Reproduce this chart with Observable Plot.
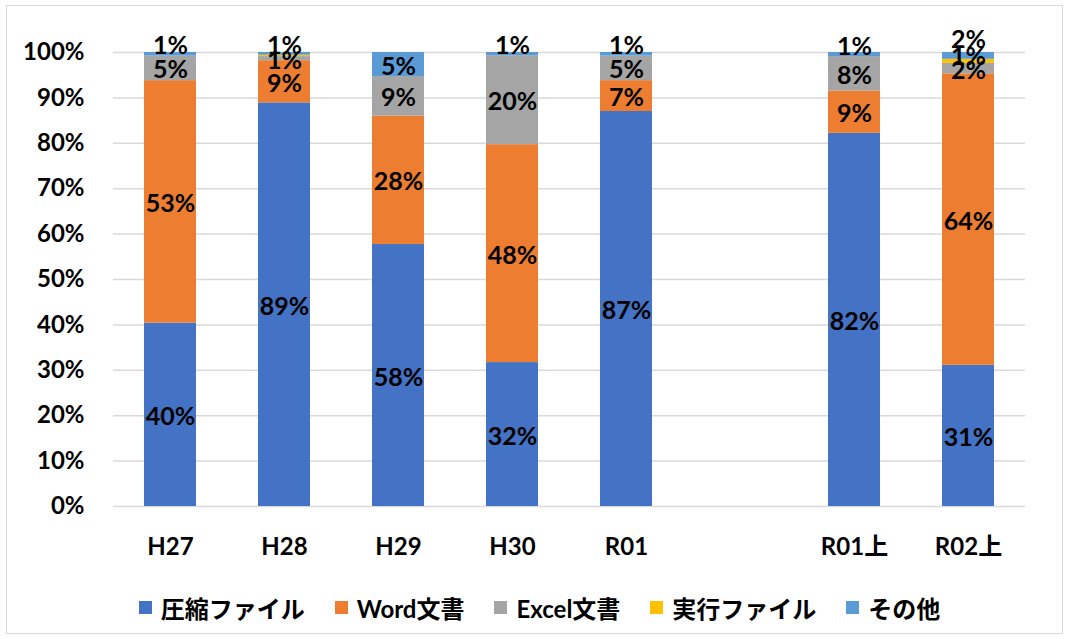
<!DOCTYPE html>
<html>
<head>
<meta charset="utf-8">
<script src="https://cdn.jsdelivr.net/npm/d3@7"></script>
<script src="https://cdn.jsdelivr.net/npm/@observablehq/plot@0.6"></script>
<style>
  html, body { margin: 0; padding: 0; background: #fff; }
  body { width: 1069px; height: 639px; position: relative; overflow: hidden;
         font-family: Lato, "Noto Sans CJK JP", sans-serif; }
  #frame { position: absolute; left: 6px; top: 5px; width: 1057px; height: 629px;
           border: 1px solid #d9d9d9; box-sizing: border-box; pointer-events: none; }
  #chart { position: absolute; left: 0; top: 0; }
  #legend { position: absolute; left: 0; top: 575px; width: 1069px; height: 64px;
            display: flex; justify-content: center; align-items: center; padding-left: 10px;
            box-sizing: border-box; }
  .item { display: flex; align-items: center; margin: 0 15px; font-weight: bold;
          font-size: 24px; font-family: Lato, "Noto Sans CJK JP", sans-serif; color: #000; }
  .sw { width: 13px; height: 13px; margin-right: 9px; }
</style>
</head>
<body>
<div id="chart"></div>
<div id="legend"></div>
<div id="frame"></div>
<script>
// ---- data ----
const categories = ["H27", "H28", "H29", "H30", "R01", "R01上", "R02上"];
const seriesNames = ["圧縮ファイル", "Word文書", "Excel文書", "実行ファイル", "その他"];
const compressed = [40.4, 88.9, 57.7, 31.7, 87.0, 82.2, 31.1];
const wordDocs   = [53.4,  9.3, 28.3, 48.0,  6.8,  9.3, 64.2];
const excelDocs  = [ 5.4,  0.9,  8.7, 19.6,  5.4,  7.6,  2.3];
const executables= [ 0.0,  0.3,  0.0,  0.0,  0.0,  0.0,  0.9];
const others     = [ 0.8,  0.6,  5.3,  0.7,  0.8,  0.9,  1.5];
const colors = ["#4472C4", "#ED7D31", "#A5A5A5", "#FFC000", "#5B9BD5"];
const yTicks = [0, 10, 20, 30, 40, 50, 60, 70, 80, 90, 100];

// ---- build table ----
const seriesValues = [compressed, wordDocs, excelDocs, executables, others];
const rows = [];
categories.forEach((cat, i) => {
  let acc = 0;
  seriesNames.forEach((s, j) => {
    const v = seriesValues[j][i];
    rows.push({cat, series: s, value: v, y1: acc, y2: acc + v, mid: acc + v / 2,
               label: Math.round(v) + "%"});
    acc += v;
  });
});
// blank gap category between R01 and R01上 (as in the original sheet)
const xDomain = [...categories.slice(0, 5), " ", ...categories.slice(5)];

const labeled = rows.filter(d => Math.round(d.value) >= 1);
const font = "Lato, 'Noto Sans CJK JP', sans-serif";
const textOpts = {x: "cat", y: "mid", text: "label", fontSize: 25, fontWeight: "bold",
                  fill: "#000", fontFamily: font};

const plot = Plot.plot({
  width: 1069, height: 575,
  marginLeft: 113, marginRight: 44, marginTop: 52, marginBottom: 69,
  style: {fontFamily: font, background: "transparent"},
  x: {domain: xDomain, paddingInner: 0.544, paddingOuter: 0.272, axis: null, label: null},
  y: {domain: [0, 100], axis: null, label: null},
  color: {domain: seriesNames, range: colors},
  marks: [
    Plot.ruleY(yTicks, {stroke: "#d9d9d9", strokeWidth: 1.5}),
    Plot.barY(rows, {x: "cat", y1: "y1", y2: "y2", fill: "series"}),
    Plot.text(labeled.filter(d => d.series !== "その他" && d.series !== "実行ファイル"),
      {...textOpts, dy: 2}),
    Plot.text(labeled.filter(d => d.series === "実行ファイル"), {...textOpts, dy: -4}),
    Plot.text(labeled.filter(d => d.series === "その他" && d.value < 1), {...textOpts, dy: -8}),
    Plot.text(labeled.filter(d => d.series === "その他" && d.value >= 1 && d.value < 2), {...textOpts, dy: -16}),
    Plot.text(labeled.filter(d => d.series === "その他" && d.value >= 2), {...textOpts, dy: 2}),
    Plot.axisX({tickSize: 0, tickPadding: 31, fontSize: 24, fontWeight: "bold", fill: "#000",
                label: null, tickFormat: d => d.trim()}),
    Plot.axisY(yTicks, {tickSize: 0, tickPadding: 29, fontSize: 24, fontWeight: "bold", fill: "#000",
                label: null, tickFormat: d => d + "%"})
  ]
});
document.getElementById("chart").appendChild(plot);

// ---- legend ----
const legend = document.getElementById("legend");
seriesNames.forEach((s, j) => {
  const it = document.createElement("div");
  it.className = "item";
  const sw = document.createElement("span");
  sw.className = "sw";
  sw.style.background = colors[j];
  const tx = document.createElement("span");
  tx.textContent = s;
  it.appendChild(sw); it.appendChild(tx);
  legend.appendChild(it);
});
</script>
</body>
</html>
